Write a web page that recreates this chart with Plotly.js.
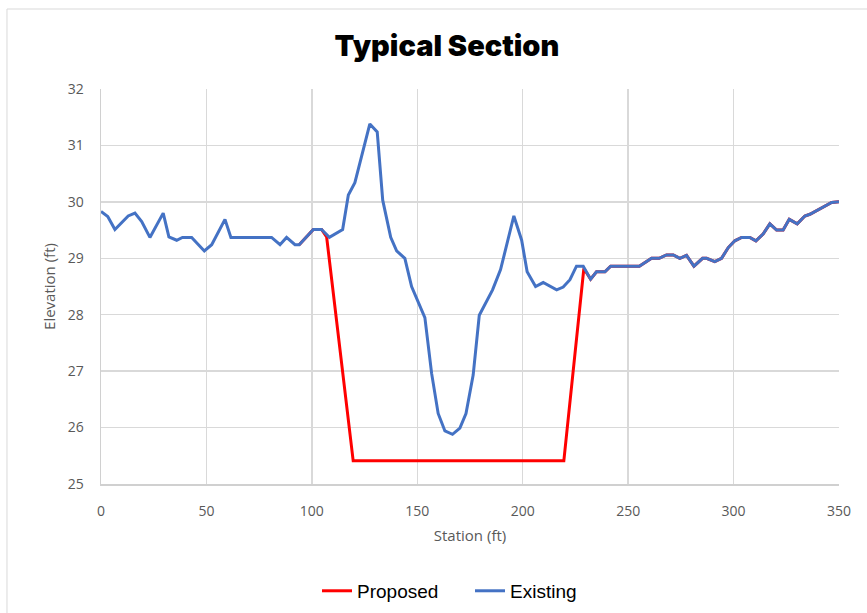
<!DOCTYPE html>
<html>
<head>
<meta charset="utf-8">
<script src="https://cdn.plot.ly/plotly-3.0.1.min.js"></script>
<style>
  html, body { margin: 0; padding: 0; background: #fff; }
  #chart { width: 867px; height: 613px; }
</style>
</head>
<body>
<div id="chart"></div>
<script>
// Existing ground profile
const existingStation = [0, 3.2, 6.6, 12.9, 16.1, 19.3, 23.2, 29.5, 32.2, 35.9, 38.6, 43, 49, 52.5, 58.8, 61.6, 80.9, 84.9, 88, 92, 94, 100.7, 104.6, 108.3, 114.6, 117.3, 120.4, 123.6, 127.5, 131, 133.6, 137.4, 140.2, 144.1, 147.3, 153.6, 156.8, 159.9, 163.1, 166.7, 170.2, 173.1, 176.5, 179.4, 185.7, 189.5, 195.8, 199.5, 202.1, 206.1, 209.7, 216.1, 219.2, 222.4, 225.5, 228.7, 232.2, 235, 239, 241.7, 255.3, 261.1, 264.7, 268.2, 271.4, 274.5, 277.7, 281.2, 285.3, 287.2, 291.1, 294.3, 297.5, 300.6, 303.8, 307.7, 310.6, 314, 317.2, 320.4, 323.5, 326.4, 330.2, 333.8, 336.2, 346.5, 350];
const existingElev = [29.83, 29.74, 29.51, 29.75, 29.80, 29.65, 29.37, 29.80, 29.38, 29.32, 29.37, 29.37, 29.13, 29.24, 29.69, 29.37, 29.37, 29.24, 29.37, 29.24, 29.24, 29.51, 29.51, 29.37, 29.51, 30.12, 30.34, 30.80, 31.38, 31.24, 30.03, 29.37, 29.13, 29.00, 28.50, 27.95, 26.96, 26.25, 25.94, 25.88, 25.99, 26.25, 26.93, 27.99, 28.44, 28.80, 29.75, 29.32, 28.76, 28.50, 28.57, 28.44, 28.49, 28.62, 28.86, 28.86, 28.63, 28.76, 28.76, 28.86, 28.86, 29.0, 29.0, 29.06, 29.06, 29.0, 29.05, 28.86, 29.0, 29.0, 28.94, 29.0, 29.19, 29.31, 29.37, 29.37, 29.31, 29.43, 29.61, 29.50, 29.50, 29.69, 29.61, 29.75, 29.78, 29.99, 30.0];

// Proposed section
const proposedStation = [94, 100.7, 104.6, 107, 119.6, 219.5, 229, 232.2, 235, 239, 241.7, 255.3, 261.1, 264.7, 268.2, 271.4, 274.5, 277.7, 281.2, 285.3, 287.2, 291.1, 294.3, 297.5, 300.6, 303.8, 307.7, 310.6, 314, 317.2, 320.4, 323.5, 326.4, 330.2, 333.8, 336.2, 346.5, 350];
const proposedElev = [29.24, 29.51, 29.51, 29.38, 25.41, 25.41, 28.82, 28.63, 28.76, 28.76, 28.86, 28.86, 29.0, 29.0, 29.06, 29.06, 29.0, 29.05, 28.86, 29.0, 29.0, 28.94, 29.0, 29.19, 29.31, 29.37, 29.37, 29.31, 29.43, 29.61, 29.50, 29.50, 29.69, 29.61, 29.75, 29.78, 29.99, 30.0];

const xTicks = [0, 50, 100, 150, 200, 250, 300, 350];
const yTicks = [25, 26, 27, 28, 29, 30, 31, 32];

const traces = [
  {x: proposedStation, y: proposedElev, name: 'Proposed', type: 'scatter', mode: 'lines',
   line: {color: '#FF0000', width: 3}},
  {x: existingStation, y: existingElev, name: 'Existing', type: 'scatter', mode: 'lines',
   line: {color: '#4472C4', width: 3}}
];

const tickFont = {family: '"Open Sans", sans-serif', size: 14, color: '#595959'};
const axTitleFont = {family: '"Open Sans", sans-serif', size: 15, color: '#595959'};

const layout = {
  width: 867, height: 613,
  margin: {l: 101, r: 28, t: 89, b: 129, autoexpand: false},
  paper_bgcolor: '#ffffff', plot_bgcolor: '#ffffff',
  title: {text: 'Typical Section', x: 0.5155, xanchor: 'center', y: 0.926, yanchor: 'middle', yref: 'container',
          font: {family: 'Inter, "DejaVu Sans", sans-serif', weight: 900, size: 29, color: '#000000'}},
  xaxis: {range: [0, 350], tickvals: xTicks, ticktext: xTicks.map(String),
          showgrid: true, gridcolor: '#d9d9d9', gridwidth: 1.5, zeroline: false,
          showline: true, linecolor: '#d0d0d0', linewidth: 1.5, ticks: '', tickfont: tickFont,
          ticklabelstandoff: 14,
          title: {text: 'Station (ft)', font: axTitleFont, standoff: 11}},
  yaxis: {range: [25, 32], tickvals: yTicks, ticktext: yTicks.map(String),
          showgrid: true, gridcolor: '#d9d9d9', gridwidth: 1.5, zeroline: false,
          showline: true, linecolor: '#d0d0d0', linewidth: 1.5, ticks: '', tickfont: tickFont,
          ticklabelstandoff: 13,
          title: {text: 'Elevation (ft)', font: axTitleFont, standoff: 8}},
  legend: {orientation: 'h', x: 0.5, xanchor: 'center', yref: 'container', y: 0.036, yanchor: 'middle',
           font: {family: '"Liberation Sans", Arial, sans-serif', size: 19, color: '#000000'},
           traceorder: 'normal', entrywidth: 108, entrywidthmode: 'pixels'},
  shapes: [
    {type: 'rect', xref: 'paper', yref: 'paper', x0: -0.1274, x1: 1.05, y0: -0.33, y1: 1.2025,
     line: {color: '#d9d9d9', width: 1}, fillcolor: 'rgba(0,0,0,0)', layer: 'below'}
  ],
  showlegend: true
};

Plotly.newPlot('chart', traces, layout, {displayModeBar: false, staticPlot: true});
</script>
</body>
</html>
